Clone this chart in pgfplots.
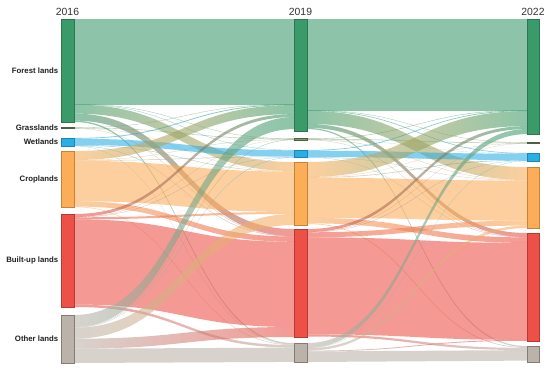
\documentclass[border=0pt]{standalone}
\usepackage{pgfplots}
\pgfplotsset{compat=1.18}
\usepackage{fontspec}
\setmainfont{Liberation Sans}
\definecolor{cF}{HTML}{3A9A6A}\definecolor{cFd}{HTML}{2C7650}
\definecolor{cG}{HTML}{7F9A66}\definecolor{cGd}{HTML}{4F5F45}
\definecolor{cW}{HTML}{29AEE6}\definecolor{cWd}{HTML}{1E86B2}
\definecolor{cC}{HTML}{FBAD58}\definecolor{cCd}{HTML}{C8833A}
\definecolor{cB}{HTML}{EC5046}\definecolor{cBd}{HTML}{B53A33}
\definecolor{cO}{HTML}{BBB2A9}\definecolor{cOd}{HTML}{857D75}
% stacking offsets (node tops, px from top)
\gdef\oaF{19}\gdef\oaG{127.5}\gdef\oaW{138}\gdef\oaC{151}\gdef\oaB{214}\gdef\oaO{315}
\gdef\ibF{19}\gdef\ibG{138.5}\gdef\ibW{150}\gdef\ibC{162}\gdef\ibB{229}\gdef\ibO{343}
\gdef\obF{19}\gdef\obG{138.5}\gdef\obW{150}\gdef\obC{162}\gdef\obB{229}\gdef\obO{343}
\gdef\icF{19}\gdef\icG{142.5}\gdef\icW{153}\gdef\icC{167}\gdef\icB{233}\gdef\icO{346}
\newcommand\flow[7]{%
 \pgfmathsetmacro\yat{\csname #1\endcsname}%
 \pgfmathsetmacro\yab{\yat+#3}%
 \pgfmathsetmacro\ybt{\csname #2\endcsname}%
 \pgfmathsetmacro\ybb{\ybt+#3}%
 \expandafter\xdef\csname #1\endcsname{\yab}%
 \expandafter\xdef\csname #2\endcsname{\ybb}%
 \pgfmathsetmacro\xm{(#6+#7)/2}%
 \edef\doflow{\noexpand\shade[left color=#4,right color=#5,fill opacity=0.58]
  (axis cs:#6,\yat) .. controls (axis cs:\xm,\yat) and (axis cs:\xm,\ybt) .. (axis cs:#7,\ybt)
  -- (axis cs:#7,\ybb) .. controls (axis cs:\xm,\ybb) and (axis cs:\xm,\yab) .. (axis cs:#6,\yab) -- cycle;}%
 \doflow}
\newcommand\fa[5]{\flow{#1}{#2}{#3}{#4}{#5}{74}{294}}
\newcommand\fb[5]{\flow{#1}{#2}{#3}{#4}{#5}{307}{527}}
\begin{document}
\begin{tikzpicture}
\begin{axis}[width=550pt,height=370pt,scale only axis,xmin=0,xmax=550,ymin=0,ymax=370,
 y dir=reverse,axis lines=none,clip=false]
% ---- 2016 -> 2019 ----
\fa{oaF}{ibF}{85}{cF}{cF}\fa{oaF}{ibG}{0.3}{cF}{cG}\fa{oaF}{ibW}{0.3}{cF}{cW}
\fa{oaF}{ibC}{9}{cF}{cC}\fa{oaF}{ibB}{7}{cF}{cB}\fa{oaF}{ibO}{1.4}{cF}{cO}
\fa{oaG}{ibF}{0.3}{cG}{cF}\fa{oaG}{ibG}{0.4}{cG}{cG}\fa{oaG}{ibC}{0.1}{cG}{cC}\fa{oaG}{ibB}{0.2}{cG}{cB}
\fa{oaW}{ibF}{0.8}{cW}{cF}\fa{oaW}{ibW}{6.2}{cW}{cW}\fa{oaW}{ibC}{0.5}{cW}{cC}\fa{oaW}{ibB}{0.3}{cW}{cB}\fa{oaW}{ibO}{0.2}{cW}{cO}
\fa{oaC}{ibF}{9}{cC}{cF}\fa{oaC}{ibG}{0.3}{cC}{cG}\fa{oaC}{ibW}{0.5}{cC}{cW}
\fa{oaC}{ibC}{40.4}{cC}{cC}\fa{oaC}{ibB}{5.3}{cC}{cB}\fa{oaC}{ibO}{0.5}{cC}{cO}
\fa{oaB}{ibF}{3}{cB}{cF}\fa{oaB}{ibG}{0.1}{cB}{cG}\fa{oaB}{ibW}{0.2}{cB}{cW}
\fa{oaB}{ibC}{2}{cB}{cC}\fa{oaB}{ibB}{85.2}{cB}{cB}\fa{oaB}{ibO}{2.5}{cB}{cO}
\fa{oaO}{ibF}{12}{cO}{cF}\fa{oaO}{ibG}{0.4}{cO}{cG}\fa{oaO}{ibW}{0.3}{cO}{cW}
\fa{oaO}{ibC}{11}{cO}{cC}\fa{oaO}{ibB}{10}{cO}{cB}\fa{oaO}{ibO}{14.3}{cO}{cO}
% ---- 2019 -> 2022 ----
\fb{obF}{icF}{91}{cF}{cF}\fb{obF}{icG}{0.3}{cF}{cG}\fb{obF}{icW}{0.6}{cF}{cW}
\fb{obF}{icC}{13}{cF}{cC}\fb{obF}{icB}{4}{cF}{cB}\fb{obF}{icO}{1.2}{cF}{cO}
\fb{obG}{icF}{0.4}{cG}{cF}\fb{obG}{icG}{0.5}{cG}{cG}\fb{obG}{icW}{0.1}{cG}{cW}\fb{obG}{icC}{0.3}{cG}{cC}\fb{obG}{icB}{0.2}{cG}{cB}
\fb{obW}{icF}{0.7}{cW}{cF}\fb{obW}{icW}{6.3}{cW}{cW}\fb{obW}{icC}{0.3}{cW}{cC}\fb{obW}{icB}{0.2}{cW}{cB}
\fb{obC}{icF}{15}{cC}{cF}\fb{obC}{icG}{0.2}{cC}{cG}\fb{obC}{icW}{0.6}{cC}{cW}
\fb{obC}{icC}{40}{cC}{cC}\fb{obC}{icB}{5.5}{cC}{cB}\fb{obC}{icO}{0.7}{cC}{cO}
\fb{obB}{icF}{3}{cB}{cF}\fb{obB}{icG}{0.1}{cB}{cG}\fb{obB}{icW}{0.2}{cB}{cW}
\fb{obB}{icC}{5}{cB}{cC}\fb{obB}{icB}{97}{cB}{cB}\fb{obB}{icO}{2.2}{cB}{cO}
\fb{obO}{icF}{5}{cO}{cF}\fb{obO}{icW}{0.2}{cO}{cW}\fb{obO}{icC}{2.4}{cO}{cC}
\fb{obO}{icB}{0.9}{cO}{cB}\fb{obO}{icO}{10.5}{cO}{cO}
% ---- nodes ----
\addplot[fill=cF,draw=cFd,line width=0.5pt] coordinates {(61,19) (74,19) (74,122) (61,122) (61,19)};
\addplot[fill=cG,draw=cGd,line width=0.5pt] coordinates {(61,127.5) (74,127.5) (74,128.5) (61,128.5) (61,127.5)};
\addplot[fill=cW,draw=cWd,line width=0.5pt] coordinates {(61,138) (74,138) (74,146) (61,146) (61,138)};
\addplot[fill=cC,draw=cCd,line width=0.5pt] coordinates {(61,151) (74,151) (74,207) (61,207) (61,151)};
\addplot[fill=cB,draw=cBd,line width=0.5pt] coordinates {(61,214) (74,214) (74,307) (61,307) (61,214)};
\addplot[fill=cO,draw=cOd,line width=0.5pt] coordinates {(61,315) (74,315) (74,363) (61,363) (61,315)};
\addplot[fill=cF,draw=cFd,line width=0.5pt] coordinates {(294,19) (307,19) (307,131) (294,131) (294,19)};
\addplot[fill=cG,draw=cGd,line width=0.5pt] coordinates {(294,138.5) (307,138.5) (307,140) (294,140) (294,138.5)};
\addplot[fill=cW,draw=cWd,line width=0.5pt] coordinates {(294,150) (307,150) (307,157.5) (294,157.5) (294,150)};
\addplot[fill=cC,draw=cCd,line width=0.5pt] coordinates {(294,162) (307,162) (307,225) (294,225) (294,162)};
\addplot[fill=cB,draw=cBd,line width=0.5pt] coordinates {(294,229) (307,229) (307,337) (294,337) (294,229)};
\addplot[fill=cO,draw=cOd,line width=0.5pt] coordinates {(294,343) (307,343) (307,362) (294,362) (294,343)};
\addplot[fill=cF,draw=cFd,line width=0.5pt] coordinates {(527,19) (539,19) (539,134) (527,134) (527,19)};
\addplot[fill=cG,draw=cGd,line width=0.5pt] coordinates {(527,142.5) (539,142.5) (539,143.7) (527,143.7) (527,142.5)};
\addplot[fill=cW,draw=cWd,line width=0.5pt] coordinates {(527,153) (539,153) (539,161) (527,161) (527,153)};
\addplot[fill=cC,draw=cCd,line width=0.5pt] coordinates {(527,167) (539,167) (539,228) (527,228) (527,167)};
\addplot[fill=cB,draw=cBd,line width=0.5pt] coordinates {(527,233) (539,233) (539,341) (527,341) (527,233)};
\addplot[fill=cO,draw=cOd,line width=0.5pt] coordinates {(527,346) (539,346) (539,362) (527,362) (527,346)};
% ---- labels ----
\begin{scope}[every node/.style={font=\fontsize{10.4}{12}\selectfont,text=black!80,inner sep=0pt}]
\node at (axis cs:67.5,11.5) {2016};
\node at (axis cs:300.5,11.5) {2019};
\node at (axis cs:533,11.5) {2022};
\end{scope}
\begin{scope}[every node/.style={anchor=east,font=\fontsize{7.8}{9}\selectfont\bfseries,text=black!88,inner sep=0pt}]
\node at (axis cs:58.5,70.5) {Forest lands};
\node at (axis cs:58.5,128) {Grasslands};
\node at (axis cs:58.5,142) {Wetlands};
\node at (axis cs:58.5,179) {Croplands};
\node at (axis cs:58.5,260.5) {Built-up lands};
\node at (axis cs:58.5,339) {Other lands};
\end{scope}
\end{axis}
\pgfresetboundingbox
\path (current axis.south west) rectangle (current axis.north east);
\end{tikzpicture}
\end{document}
